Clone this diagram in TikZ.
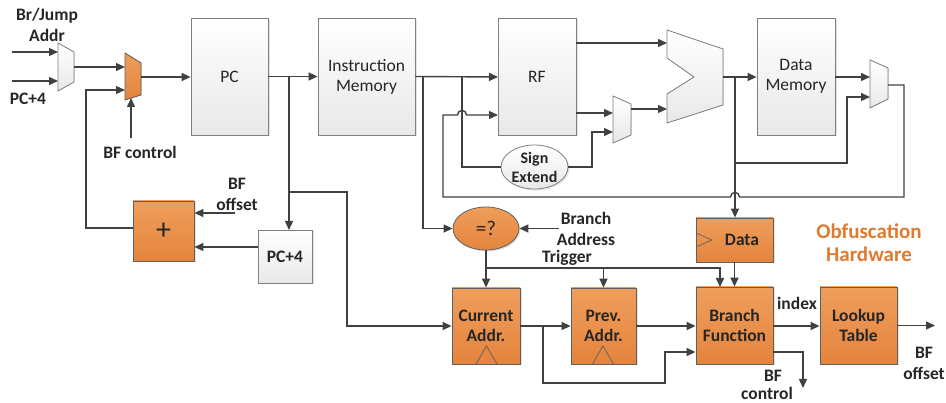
\documentclass[tikz,border=0pt]{standalone}
\usepackage{fontspec}
\setmainfont{Carlito}
\usetikzlibrary{arrows.meta,shapes.geometric,shadows}
\definecolor{wcol}{HTML}{404040}
\definecolor{bcol}{HTML}{808080}
\definecolor{otop}{HTML}{EF9E5C}
\definecolor{obot}{HTML}{E4843D}
\definecolor{oline}{HTML}{5F5F5F}
\definecolor{otext}{HTML}{E07A2E}
\definecolor{tcol}{HTML}{262626}
\begin{document}
\begin{tikzpicture}[x=1pt,y=-1pt,
 wire/.style={draw=wcol,line width=1.4pt},
 arr/.style={wire,-{Triangle[length=9pt,width=8pt]}},
 shad/.style={drop shadow={shadow xshift=1.5pt,shadow yshift=-1.5pt,opacity=0.22}},
 wbox/.style={shad,draw=bcol,line width=0.8pt,top color=white,bottom color=black!9,inner sep=0pt,align=center,font=\fontsize{17.5}{20}\selectfont,text=tcol},
 obox/.style={shad,draw=oline,line width=0.8pt,top color=otop,bottom color=obot,inner sep=0pt,align=center,font=\bfseries\fontsize{17.5}{20}\selectfont,text=tcol},
 muxw/.style={draw=bcol,line width=0.8pt,top color=white,bottom color=black!9},
 muxo/.style={draw=oline,line width=0.8pt,top color=otop,bottom color=obot},
 clk/.style={draw=oline,line width=0.7pt},
 lbl/.style={font=\bfseries\fontsize{17.5}{20}\selectfont,text=tcol,inner sep=0pt},
 olbl/.style={font=\bfseries\fontsize{21}{24}\selectfont,text=otext,inner sep=0pt}]
\useasboundingbox (0,0) rectangle (946,403);

% ---- boxes ----
\node[wbox,minimum width=77pt,minimum height=117pt] (pc) at (229.5,76.5) {PC};
\node[wbox,minimum width=97pt,minimum height=117pt] (im) at (366.5,76.5) {Instruction\\Memory};
\node[wbox,minimum width=78pt,minimum height=117pt] (rf) at (537,76.5) {RF};
\node[wbox,minimum width=78pt,minimum height=117pt] (dm) at (796,76.5) {Data\\Memory};
\node[wbox,font=\bfseries\fontsize{17.5}{20}\selectfont,minimum width=54pt,minimum height=53pt] (pc4) at (285,256.5) {PC+4};
\node[obox,font=\fontsize{30}{30}\selectfont,minimum width=61pt,minimum height=60pt] (add) at (163.5,231) {+};
\node[obox,minimum width=77pt,minimum height=44pt] (data) at (734.5,240) {\hspace*{15pt}Data};
\node[obox,minimum width=68pt,minimum height=76pt] (cur) at (486,326) {Current\\Addr.};
\node[obox,minimum width=65pt,minimum height=76pt] (prev) at (603.5,326) {Prev.\\Addr.};
\node[obox,minimum width=77pt,minimum height=77pt] (bfn) at (734.5,325.5) {Branch\\Function};
\node[obox,minimum width=77pt,minimum height=77pt] (lut) at (858.5,325.5) {Lookup\\Table};
\node[obox,ellipse,font=\fontsize{21}{21}\selectfont,minimum width=66pt,minimum height=43pt] (eq) at (486,228.5) {=?};
\node[wbox,ellipse,font=\bfseries\fontsize{16}{19}\selectfont,minimum width=67pt,minimum height=44pt] (se) at (534.5,167) {Sign\\Extend};

% clock triangles
\draw[clk] (476,364) -- (486.5,346) -- (497,364);
\draw[clk] (592.5,364) -- (603,346) -- (613.5,364);
\draw[clk] (696,233) -- (712,240) -- (696,247);

% ---- muxes and ALU ----
\filldraw[muxw] (58,43) -- (74,52) -- (74,82) -- (58,91) -- cycle;
\filldraw[muxo] (125,53) -- (141,63) -- (141,95) -- (125,100) -- cycle;
\filldraw[muxw] (613,96) -- (631,104) -- (631,135) -- (613,143) -- cycle;
\filldraw[muxw] (870,60) -- (888,68) -- (888,99) -- (870,108) -- cycle;
\filldraw[muxw] (667,30) -- (723,49) -- (723,105) -- (667,123) -- (667,94) -- (694,77) -- (667,58) -- cycle;

% named ports
\coordinate (m1a) at (58,52);  \coordinate (m1b) at (58,81);  \coordinate (m1o) at (74,67);
\coordinate (m2a) at (125,67); \coordinate (m2b) at (125,90); \coordinate (m2o) at (141,77);
\coordinate (m2s) at (131,98);
\coordinate (m4a) at (613,113); \coordinate (m4b) at (613,132); \coordinate (m4o) at (631,109);
\coordinate (m5a) at (870,77); \coordinate (m5b) at (870,97); \coordinate (m5o) at (888,85);
\coordinate (alua) at (667,43); \coordinate (alub) at (667,109); \coordinate (aluo) at (723,77);
\coordinate (bjin) at (12,52); \coordinate (pc4in) at (12,81);
\coordinate (bfc) at (131,138); \coordinate (bfo) at (235,213);
\coordinate (bat) at (559,228.5);
\coordinate (rfa) at (498,77); \coordinate (rfb) at (498,115);
\coordinate (rfo1) at (576,43); \coordinate (rfo2) at (576,113);
\coordinate (bfcout) at (803,388); \coordinate (bfoout) at (935,325.5);

% ---- connectors ----
\draw[arr] (bjin) -- (m1a);
\draw[arr] (pc4in) -- (m1b);
\draw[arr] (m1o) -- (m2a);
\draw[arr] (m2o) -- (pc.west |- m2o);
\draw[arr] (bfc) -- (m2s);
\draw[arr] (pc.east) -- (im.west);
\draw[arr] (289,77) -- (289,230);
\draw[arr] (289,192) -- (347,192) -- (347,326) -- (cur.west);
\draw[arr] (pc4.west |- 0,247) -- (add.east |- 0,247);
\draw[arr] (bfo) -- (add.east |- bfo);
\draw[arr] (add.west |- 0,228) -- (86,228) -- (86,90) -- (m2b);
\draw[arr] (im.east) -- (rfa);
\draw[arr] (423,77) -- (423,228.5) -- (eq.west);
\draw[wire] (462,77) -- (462,167) -- (se.west);
\draw[arr] (se.east) -- (592,167) -- (592,132) -- (m4b);
\draw[arr] (rfo1) -- (alua);
\draw[arr] (rfo2) -- (m4a);
\draw[arr] (m4o) -- (alub);
\draw[arr] (aluo) -- (dm.west |- aluo);
\draw[arr] (735,77) -- (data.north -| 735,0);
\draw[arr] (735,163) -- (847,163) -- (847,97) -- (m5b);
\draw[arr] (dm.east |- m5a) -- (m5a);
\draw[arr] (m5o) -- (904,85) -- (904,197) -- (739.5,197) .. controls (739.5,191) and (730.5,191) .. (730.5,197)
  -- (443,197) -- (443,115) -- (457.5,115) .. controls (457.5,109) and (466.5,109) .. (466.5,115) -- (rfb);
\draw[arr] (bat) -- (eq.east);
\draw[arr] (eq.south) -- (cur.north);
\draw[arr] (486,268) -- (720,268) -- (720,287);
\draw[arr] (603.5,268) -- (prev.north);
\draw[arr] (data.south) -- (bfn.north);
\draw[arr] (cur.east |- 0,326) -- (prev.west |- 0,326);
\draw[arr] (543,326) -- (543,383) -- (665,383) -- (665,352) -- (bfn.west |- 0,352);
\draw[arr] (prev.east |- 0,326) -- (bfn.west |- 0,326);
\draw[arr] (bfn.east |- 0,326) -- (lut.west |- 0,326);
\draw[arr] (bfn.east |- 0,352) -- (803,352) -- (bfcout);
\draw[arr] (lut.east |- bfoout) -- (bfoout);

% ---- labels ----
\node[lbl] (t1) at (47,16) {Br/Jump};
\node[lbl] (t2) at (47,35) {Addr};
\node[lbl] (t3) at (28,99) {PC+4};
\node[lbl] (t4) at (140,152) {BF control};
\node[lbl] (t5) at (237,184) {BF};
\node[lbl] (t6) at (237,204) {offset};
\node[lbl] (t7) at (586,218) {Branch};
\node[lbl] (t8) at (586,239) {Address};
\node[lbl] (t9) at (567,258) {Trigger};
\node[lbl] (t10) at (797,303) {index};
\node[lbl] (t11) at (773,376) {BF};
\node[lbl] (t12) at (767,393) {control};
\node[lbl] (t13) at (924,353) {BF};
\node[lbl] (t14) at (924,373) {offset};
\node[olbl] (t15) at (869,231) {Obfuscation};
\node[olbl] (t16) at (869,254) {Hardware};
\end{tikzpicture}
\end{document}
